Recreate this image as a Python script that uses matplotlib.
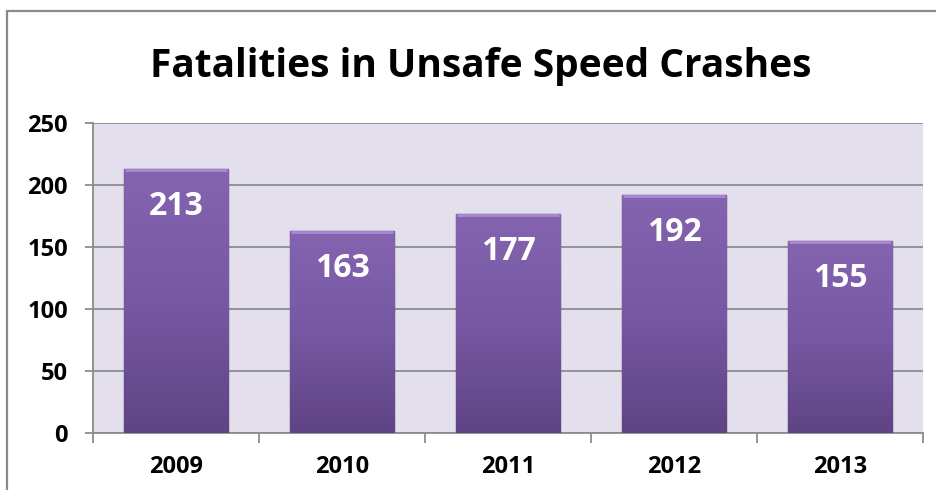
import numpy as np
import matplotlib.pyplot as plt
from matplotlib.patches import Rectangle
from matplotlib.colors import LinearSegmentedColormap

years = ['2009', '2010', '2011', '2012', '2013']
fatalities = [213, 163, 177, 192, 155]
yticks = [0, 50, 100, 150, 200, 250]

plt.rcParams['font.family'] = ['Open Sans', 'DejaVu Sans']

fig = plt.figure(figsize=(9.37, 4.9), dpi=100)
ax = fig.add_axes([0.0993, 0.1163, 0.8857, 0.6327])
ax.set_facecolor('#e4dfec')

# outer chart frame (runs off the right and bottom of the image)
fig.patches.append(Rectangle((0.0075, -0.05), 1.05, 1.028, transform=fig.transFigure,
                             fill=False, edgecolor='#8a8a8a', linewidth=1.6))

x = np.arange(len(years))
bars = ax.bar(x, fatalities, width=0.63, color='#7657a0', edgecolor='#54397a',
              linewidth=1.0, zorder=3)

# vertical gradient inside each bar
cmap = LinearSegmentedColormap.from_list('purp', ['#5f4484', '#7758a3', '#8464b0'])
grad = np.linspace(0, 1, 256).reshape(-1, 1)
for b in bars:
    x0, y0, w, h = b.get_x(), b.get_y(), b.get_width(), b.get_height()
    im = ax.imshow(grad, cmap=cmap, aspect='auto', origin='lower',
                   extent=(x0, x0 + w, y0, y0 + h), zorder=3.5)
    im.set_clip_path(b)
    # top bevel highlight
    ax.plot([x0 + 0.01, x0 + w - 0.01], [y0 + h - 1.2, y0 + h - 1.2],
            color='#a78ad0', linewidth=2, zorder=4, solid_capstyle='butt')
    ax.annotate(str(int(h)), (b.get_x() + w / 2, h), xytext=(0, -27),
                textcoords='offset points', ha='center', va='center',
                color='white', fontsize=23, fontweight='bold', zorder=5)

ax.set_xlim(-0.5, len(years) - 0.5)
ax.set_ylim(0, 250)
ax.set_yticks(yticks)
ax.set_yticklabels([str(v) for v in yticks])
ax.set_xticks(x)
ax.set_xticklabels(years)
ax.set_xticks(np.arange(-0.5, len(years), 1), minor=True)

ax.grid(axis='y', color='#8c8c8c', linewidth=1.3, zorder=1)
ax.set_axisbelow(True)

for s in ['top', 'right']:
    ax.spines[s].set_visible(False)
for s in ['left', 'bottom']:
    ax.spines[s].set_color('#8c8c8c')
    ax.spines[s].set_linewidth(1.3)

ax.tick_params(axis='y', length=6, width=1.3, color='#8c8c8c', pad=12,
               labelsize=17)
ax.tick_params(axis='x', which='major', length=0, pad=16, labelsize=17)
ax.tick_params(axis='x', which='minor', length=7, width=1.3, color='#8c8c8c')
for lbl in ax.get_xticklabels() + ax.get_yticklabels():
    lbl.set_fontweight('bold')

fig.text(0.513, 0.864, 'Fatalities in Unsafe Speed Crashes', ha='center', va='center',
         fontsize=28, fontweight='bold')

fig.savefig('out.png', dpi=100, facecolor='white')
